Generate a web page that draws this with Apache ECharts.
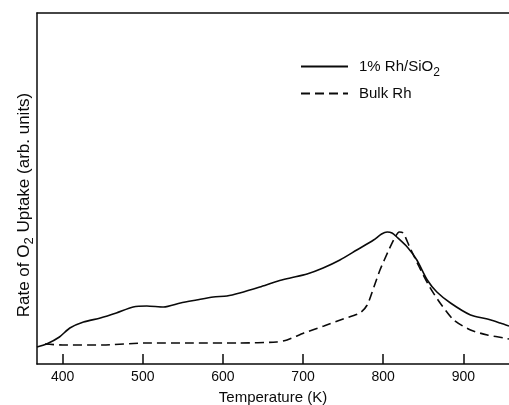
<!DOCTYPE html>
<html>
<head>
<meta charset="utf-8">
<script src="https://cdn.jsdelivr.net/npm/echarts@6/dist/echarts.min.js"></script>
<style>html,body{margin:0;padding:0;background:#fff}#c{width:509px;height:405px}</style>
</head>
<body>
<div id="c"></div>
<script>
// Temperature (K) values and rate of O2 uptake (arb. units)
var rhSiO2Temp = [368,380,396,409,426,447,467,488,505,526,547,567,588,605,621,646,669,684,705,725,746,767,788,798,805,811,817,830,842,855,867,884,909,930,946,957];
var rhSiO2Rate = [17,20,27,36,42,46,51,57,58,57,61,64,67,68,71,77,83,86,90,96,104,114,124,130,132,131,127,117,104,84,72,61,49,45,41,38];
var bulkTemp = [378,400,450,505,560,620,667,680,701,726,750,771,780,788,796,807,815,820,825,833,845,858,871,888,909,930,951,957];
var bulkRate = [20,19,19,21,21,21,22,24,31,38,45,51,59,76,94,114,127,132,131,117,97,77,61,44,34,29,26,25];
var xTicks = [400,500,600,700,800,900];
var seriesNames = ['1% Rh/SiO2', 'Bulk Rh'];

function pairs(xs, ys){ return xs.map(function(x,i){ return [x, ys[i]]; }); }

var font = '"Liberation Sans", Arial, Helvetica, sans-serif';
var ink = '#0a0a0a';
var chart = echarts.init(document.getElementById('c'), null, {renderer:'canvas'});
var legendRich = {
  a:{fontSize:15, fontFamily:font, color:ink, lineHeight:24},
  s:{fontSize:12, fontFamily:font, color:ink, lineHeight:13, verticalAlign:'bottom'}
};
function legendFmt(n){
  if (n === seriesNames[0]) return '{a|1% Rh/SiO}{s|2}';
  return '{a|' + n + '}';
}
function legendFor(name, top){
  return {data:[name], orient:'vertical', left:295, top:top, itemWidth:47, itemHeight:14,
    itemStyle:{opacity:0}, formatter:legendFmt,
    textStyle:{rich:legendRich, padding:[0,0,0,6]}, selectedMode:false};
}
chart.setOption({
  animation:false,
  backgroundColor:'#fff',
  grid:{left:37, right:0, top:13, bottom:41, containLabel:false, outerBoundsMode:'none'},
  legend:[legendFor(seriesNames[0], 54), legendFor(seriesNames[1], 81)],
  xAxis:[{
    type:'value', min:368, max:957, position:'bottom',
    name:'Temperature (K)', nameLocation:'middle', nameGap:26,
    nameTextStyle:{fontSize:15, fontFamily:font, color:ink},
    axisLine:{show:true, lineStyle:{color:ink, width:1.5}},
    axisTick:{show:true, inside:true, length:10, lineStyle:{color:ink, width:1.5}, customValues:xTicks},
    axisLabel:{show:true, fontSize:14, fontFamily:font, color:ink, margin:6, customValues:xTicks},
    splitLine:{show:false}
  },{
    type:'value', min:368, max:957, position:'top',
    axisLine:{show:true, lineStyle:{color:ink, width:1.5}},
    axisTick:{show:false}, axisLabel:{show:false}, splitLine:{show:false}
  }],
  yAxis:{
    type:'value', min:0, max:351,
    name:'{a|Rate of O}{s|2}{a| Uptake (arb. units)}', nameLocation:'middle', nameGap:1, nameRotate:90,
    nameTextStyle:{padding:[0,33,0,0], rich:{
      a:{fontSize:17, fontFamily:font, color:ink, lineHeight:24},
      s:{fontSize:13, fontFamily:font, color:ink, lineHeight:14, verticalAlign:'bottom'}
    }},
    axisLine:{show:true, lineStyle:{color:ink, width:1.5}},
    axisTick:{show:false}, axisLabel:{show:false}, splitLine:{show:false}
  },
  series:[
    {name:seriesNames[0], type:'line', data:pairs(rhSiO2Temp, rhSiO2Rate), symbol:'none', smooth:0.25,
     lineStyle:{color:ink, width:1.6, type:'solid'}, itemStyle:{color:ink}},
    {name:seriesNames[1], type:'line', data:pairs(bulkTemp, bulkRate), symbol:'none', smooth:0.25,
     lineStyle:{color:ink, width:1.6, type:[9,5]}, itemStyle:{color:ink}}
  ]
});
</script>
</body>
</html>
